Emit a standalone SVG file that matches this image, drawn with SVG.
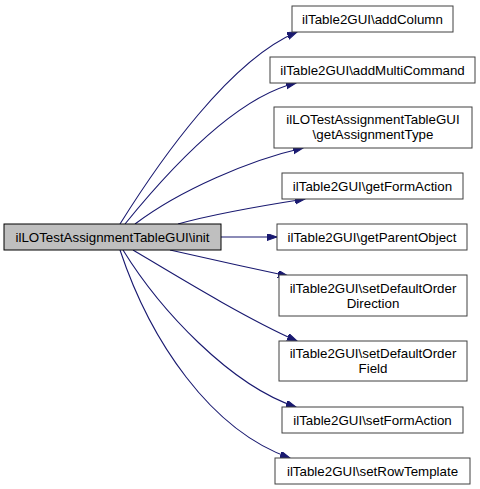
<svg xmlns="http://www.w3.org/2000/svg" width="480" height="489" viewBox="0 0 480 489">
<style>
.n rect{fill:#ffffff;stroke:#404040;stroke-width:1}
.m rect{fill:#bfbfbf;stroke:#000000;stroke-width:1}
text{font-family:"Liberation Sans",Arial,sans-serif;font-size:13.33px;fill:#000000;text-anchor:middle}
.e path{fill:none;stroke:#191970;stroke-width:1.1;marker-end:url(#ah)}
</style>
<defs>
<marker id="ah" markerUnits="userSpaceOnUse" markerWidth="12" markerHeight="9" refX="10" refY="3.5" orient="auto">
<path d="M0,0 L10,3.5 L0,7 z" fill="#191970" stroke="#191970"/>
</marker>
</defs>
<rect width="480" height="489" fill="#ffffff"/>
<g id="edges" class="e">
<path d="M120,224 C160,160 230,60 297,32"/>
<path d="M125,224 C185,150 245,95 296,83"/>
<path d="M135,224 C180,190 250,160 303,148"/>
<path d="M178,224 C210,215 260,206 305,199"/>
<path d="M221,237 L277,237"/>
<path d="M170,250 C205,258 250,268 288,276"/>
<path d="M133,250 C175,275 245,318 297,341"/>
<path d="M123,250 C160,310 230,385 296,407"/>
<path d="M120,250 C150,340 210,430 290,458"/>
</g>
<g id="main" class="m"><rect x="4" y="224" width="217" height="26"/><text x="112.5" y="241.5">ilLOTestAssignmentTableGUI\init</text></g>
<g id="addColumn" class="n"><rect x="292" y="6" width="161" height="26"/><text x="372.5" y="23.5">ilTable2GUI\addColumn</text></g>
<g id="addMultiCommand" class="n"><rect x="270" y="57" width="205" height="26"/><text x="372.5" y="74.5">ilTable2GUI\addMultiCommand</text></g>
<g id="getAssignmentType" class="n"><rect x="274" y="107" width="198" height="41"/><text x="373" y="124">ilLOTestAssignmentTableGUI</text><text x="373" y="139">\getAssignmentType</text></g>
<g id="getFormAction" class="n"><rect x="282" y="173" width="181" height="26"/><text x="372.5" y="190.5">ilTable2GUI\getFormAction</text></g>
<g id="getParentObject" class="n"><rect x="277" y="224" width="190" height="26"/><text x="372" y="241.5">ilTable2GUI\getParentObject</text></g>
<g id="setDefaultOrderDirection" class="n"><rect x="279" y="275" width="188" height="41"/><text x="373" y="292.5">ilTable2GUI\setDefaultOrder</text><text x="373" y="307.5">Direction</text></g>
<g id="setDefaultOrderField" class="n"><rect x="279" y="341" width="188" height="40"/><text x="373" y="358">ilTable2GUI\setDefaultOrder</text><text x="373" y="373">Field</text></g>
<g id="setFormAction" class="n"><rect x="282" y="407" width="181" height="26"/><text x="372.5" y="424.5">ilTable2GUI\setFormAction</text></g>
<g id="setRowTemplate" class="n"><rect x="275" y="458" width="195" height="26"/><text x="372.5" y="475.5">ilTable2GUI\setRowTemplate</text></g>
</svg>
